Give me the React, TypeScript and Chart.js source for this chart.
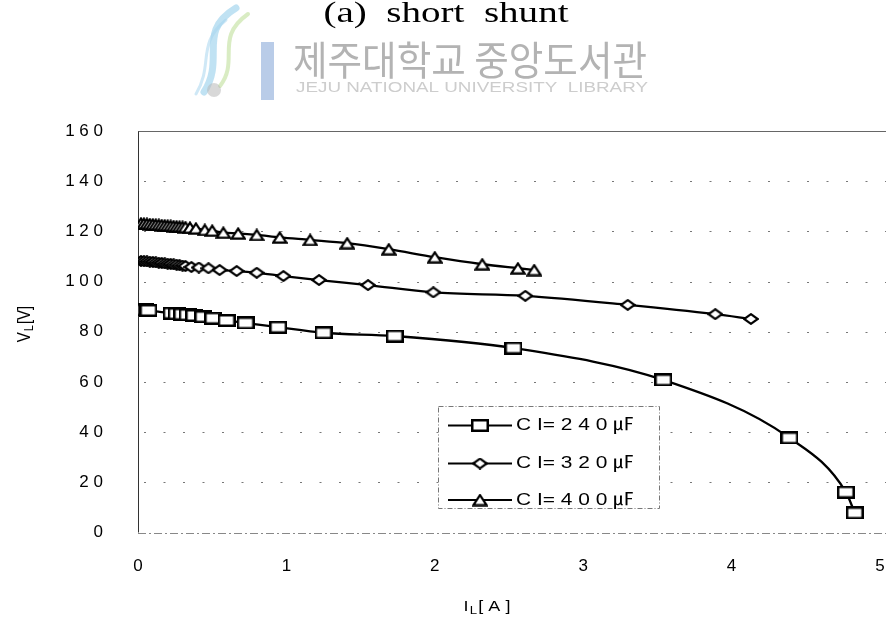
import React, { useEffect, useRef } from 'react';
import { Chart, registerables } from 'chart.js';

Chart.register(...registerables);

// ---------- texts ----------
const titleText = '(a)  short  shunt';
const watermarkKo = '제주대학교 중앙도서관';
const watermarkEn = 'JEJU NATIONAL UNIVERSITY  LIBRARY';

// ---------- ticks ----------
const xTickValues = [0, 1, 2, 3, 4, 5];
const xTickLabels = ['0', '1', '2', '3', '4', '5'];
const yTickValues = [0, 20, 40, 60, 80, 100, 120, 140, 160];
const yTickLabels = ['0', '2 0', '4 0', '6 0', '8 0', '1 0 0', '1 2 0', '1 4 0', '1 6 0'];

// ---------- series ----------
const seriesLabels = ['C I= 2 4 0 ㎌', 'C I= 3 2 0 ㎌', 'C I= 4 0 0 ㎌'];

// C = 240 uF (squares)
const c240X = [0.01, 0.03, 0.05, 0.07, 0.227, 0.26, 0.298, 0.334, 0.379, 0.44, 0.507, 0.597, 0.725, 0.945, 1.25, 1.73, 2.53, 3.54, 4.39, 4.77, 4.83];
const c240Y = [89.0, 88.9, 88.7, 88.5, 87.4, 87.2, 87.0, 86.8, 86.5, 86.0, 85.4, 84.5, 83.5, 81.8, 79.6, 78.3, 73.5, 60.8, 37.7, 16.1, 7.8];

// C = 320 uF (diamonds)
const c320X = [0.02, 0.04, 0.06, 0.08, 0.1, 0.12, 0.14, 0.16, 0.18, 0.2, 0.22, 0.24, 0.26, 0.28, 0.3, 0.32, 0.36, 0.41, 0.475, 0.55, 0.665, 0.8, 0.98, 1.22, 1.55, 1.99, 2.61, 3.3, 3.89, 4.13];
const c320Y = [108.2, 108.1, 108.0, 107.9, 107.8, 107.6, 107.5, 107.4, 107.2, 107.1, 107.0, 106.8, 106.7, 106.5, 106.4, 106.2, 105.8, 105.6, 105.3, 104.6, 104.2, 103.5, 102.2, 100.6, 98.6, 95.7, 94.3, 90.7, 87.0, 85.1];

// C = 400 uF (triangles)
const c400X = [0.02, 0.04, 0.06, 0.08, 0.1, 0.12, 0.14, 0.16, 0.18, 0.2, 0.22, 0.24, 0.26, 0.28, 0.3, 0.32, 0.35, 0.39, 0.45, 0.5, 0.575, 0.675, 0.8, 0.955, 1.16, 1.41, 1.69, 2.0, 2.32, 2.56, 2.67];
const c400Y = [123.2, 123.1, 123.0, 122.9, 122.8, 122.7, 122.6, 122.5, 122.4, 122.3, 122.2, 122.1, 122.0, 121.9, 121.8, 121.7, 121.5, 121.2, 120.6, 120.3, 119.5, 119.2, 118.6, 117.6, 116.6, 115.3, 112.9, 109.7, 106.9, 105.3, 104.6];

const SANS = '"Liberation Sans", Arial, "Noto Sans CJK KR", sans-serif';

function makeMarker(kind: string): HTMLCanvasElement {
  const c = document.createElement('canvas');
  const ctx = c.getContext('2d')!;
  if (kind === 'rect') {
    c.width = 18; c.height = 13;
    ctx.fillStyle = '#fff';
    ctx.fillRect(1.25, 1.25, 15.5, 10.5);
    ctx.strokeStyle = '#000';
    ctx.lineWidth = 2.5;
    ctx.strokeRect(1.25, 1.25, 15.5, 10.5);
  } else if (kind === 'diamond') {
    c.width = 16; c.height = 12;
    ctx.beginPath();
    ctx.moveTo(8, 1.2); ctx.lineTo(14.8, 6); ctx.lineTo(8, 10.8); ctx.lineTo(1.2, 6); ctx.closePath();
    ctx.fillStyle = '#fff'; ctx.fill();
    ctx.strokeStyle = '#000'; ctx.lineWidth = 2.2; ctx.stroke();
  } else {
    c.width = 16; c.height = 13;
    ctx.beginPath();
    ctx.moveTo(8, 1.6); ctx.lineTo(14.6, 11.6); ctx.lineTo(1.4, 11.6); ctx.closePath();
    ctx.fillStyle = '#fff'; ctx.fill();
    ctx.strokeStyle = '#000'; ctx.lineWidth = 2.2; ctx.lineJoin = 'miter'; ctx.stroke();
  }
  return c;
}

function fitText(ctx: CanvasRenderingContext2D, text: string, cx: number, y: number, width: number) {
  const w = ctx.measureText(text).width;
  ctx.save();
  ctx.translate(cx, y);
  ctx.scale(width / w, 1);
  ctx.textAlign = 'center';
  ctx.fillText(text, 0, 0);
  ctx.restore();
}

function drawSubTitle(ctx: CanvasRenderingContext2D, main: string, sub: string, rest: string, sx: number) {
  ctx.font = `15px ${SANS}`;
  const w1 = ctx.measureText(main).width;
  const w3 = ctx.measureText(rest).width;
  ctx.font = `11px ${SANS}`;
  const w2 = ctx.measureText(sub).width;
  const total = (w1 + w2 + w3 + 2) * sx;
  ctx.save();
  ctx.translate(-total / 2, 0);
  ctx.scale(sx, 1);
  ctx.textAlign = 'left';
  ctx.textBaseline = 'middle';
  ctx.font = `15px ${SANS}`;
  ctx.fillText(main, 0, 0);
  ctx.font = `11px ${SANS}`;
  ctx.fillText(sub, w1 + 1, 4);
  ctx.font = `15px ${SANS}`;
  ctx.fillText(rest, w1 + w2 + 2, 0);
  ctx.restore();
}

export default function App() {
  const ref = useRef<HTMLCanvasElement | null>(null);

  useEffect(() => {
    if (!ref.current) return;
    const markers = [makeMarker('rect'), makeMarker('diamond'), makeMarker('tri')];
    const xs = [c240X, c320X, c400X];
    const ys = [c240Y, c320Y, c400Y];

    const decor = {
      id: 'decor',
      beforeDatasetsDraw(chart: any) {
        const { ctx, chartArea: ca, scales } = chart;
        const ys_ = scales.y;
        ctx.save();
        ctx.strokeStyle = '#777';
        ctx.lineWidth = 1;
        ctx.setLineDash([2, 17.5]);
        for (const v of yTickValues) {
          if (v === 0 || v === 160) continue;
          const py = Math.round(ys_.getPixelForValue(v)) + 0.5;
          ctx.beginPath();
          ctx.moveTo(ca.left + 6, py);
          ctx.lineTo(ca.right + 6, py);
          ctx.stroke();
        }
        ctx.setLineDash([]);
        ctx.strokeStyle = '#666';
        const pt = Math.round(ys_.getPixelForValue(160)) + 0.5;
        ctx.beginPath();
        ctx.moveTo(ca.left, pt);
        ctx.lineTo(ca.right + 6, pt);
        ctx.stroke();
        ctx.strokeStyle = '#333';
        ctx.beginPath();
        ctx.moveTo(Math.round(ca.left) + 0.5, pt);
        ctx.lineTo(Math.round(ca.left) + 0.5, ca.bottom);
        ctx.stroke();
        ctx.strokeStyle = '#888';
        ctx.setLineDash([8, 3, 2, 3]);
        const pb = Math.round(ys_.getPixelForValue(0)) + 0.5;
        ctx.beginPath();
        ctx.moveTo(ca.left, pb);
        ctx.lineTo(ca.right + 6, pb);
        ctx.stroke();
        ctx.restore();
      },
      afterDatasetsDraw(chart: any) {
        const { ctx } = chart;
        ctx.save();
        ctx.fillStyle = '#fff';
        ctx.fillRect(438, 406, 222, 103);
        ctx.strokeStyle = '#777';
        ctx.lineWidth = 1;
        ctx.setLineDash([5, 2, 1, 2]);
        ctx.strokeRect(438.5, 406.5, 221, 102);
        ctx.setLineDash([]);
        const rows = [425.5, 463.5, 500];
        for (let i = 0; i < 3; i++) {
          const ry = rows[i];
          ctx.strokeStyle = '#000';
          ctx.lineWidth = 2;
          ctx.beginPath();
          ctx.moveTo(448, ry);
          ctx.lineTo(512, ry);
          ctx.stroke();
          const m = markers[i];
          ctx.drawImage(m, 480 - m.width / 2, ry - m.height / 2);
          ctx.fillStyle = '#000';
          ctx.font = `17px ${SANS}`;
          ctx.textBaseline = 'middle';
          const w = ctx.measureText(seriesLabels[i]).width;
          ctx.save();
          ctx.translate(516, ry);
          ctx.scale(118 / w, 1);
          ctx.textAlign = 'left';
          ctx.fillText(seriesLabels[i], 0, 0);
          ctx.restore();
        }
        ctx.restore();
      },
      afterDraw(chart: any) {
        const { ctx } = chart;
        ctx.save();
        ctx.fillStyle = '#000';
        ctx.font = '30px "Liberation Serif", "Times New Roman", serif';
        ctx.textBaseline = 'alphabetic';
        fitText(ctx, titleText, 446, 22, 245);

        ctx.globalAlpha = 0.55;
        ctx.lineCap = 'round';
        ctx.strokeStyle = '#8ccbe9';
        ctx.lineWidth = 7;
        ctx.beginPath();
        ctx.moveTo(236, 8);
        ctx.bezierCurveTo(196, 32, 226, 58, 204, 92);
        ctx.stroke();
        ctx.strokeStyle = '#b9dd92';
        ctx.lineWidth = 4;
        ctx.beginPath();
        ctx.moveTo(248, 14);
        ctx.bezierCurveTo(214, 38, 240, 60, 220, 86);
        ctx.stroke();
        ctx.strokeStyle = '#a7d6ee';
        ctx.lineWidth = 3;
        ctx.beginPath();
        ctx.moveTo(226, 20);
        ctx.bezierCurveTo(196, 44, 214, 64, 196, 94);
        ctx.stroke();
        ctx.fillStyle = '#b8b8b8';
        ctx.beginPath();
        ctx.arc(214, 90, 7, 0, Math.PI * 2);
        ctx.fill();
        ctx.fillStyle = '#7fa3d6';
        ctx.fillRect(261, 42, 13, 58);
        ctx.globalAlpha = 1;

        ctx.fillStyle = '#b3b3b3';
        ctx.font = '40px "Noto Sans CJK KR", sans-serif';
        ctx.textBaseline = 'middle';
        fitText(ctx, watermarkKo, 470, 60, 354);
        ctx.fillStyle = '#cdcdcd';
        ctx.font = `14px ${SANS}`;
        fitText(ctx, watermarkEn, 472, 88, 352);

        ctx.fillStyle = '#000';
        ctx.save();
        ctx.translate(487, 607);
        drawSubTitle(ctx, 'I', 'L', '[ A ]', 1.2);
        ctx.restore();
        ctx.save();
        ctx.translate(25, 324);
        ctx.rotate(-Math.PI / 2);
        ctx.scale(1, 1.2);
        drawSubTitle(ctx, 'V', 'L', '[V]', 1.0);
        ctx.restore();
        ctx.restore();
      },
    };

    const datasets = seriesLabels.map((label, i) => ({
      label,
      data: xs[i].map((x, k) => ({ x, y: ys[i][k] })),
      borderColor: '#000',
      backgroundColor: '#fff',
      borderWidth: 2.3,
      pointStyle: markers[i] as any,
      pointRadius: 6,
      pointHoverRadius: 6,
      cubicInterpolationMode: 'monotone' as const,
      showLine: true,
      fill: false,
    }));

    const chart = new Chart(ref.current, {
      type: 'line',
      data: { datasets },
      options: {
        animation: false,
        responsive: true,
        maintainAspectRatio: false,
        events: [],
        layout: { padding: { top: 131, right: 13, left: 0, bottom: 0 } },
        plugins: {
          legend: { display: false },
          tooltip: { enabled: false },
          title: { display: false },
        },
        scales: {
          x: {
            type: 'linear',
            min: 0,
            max: 5,
            afterFit: (s: any) => { s.height = 87.5; },
            afterBuildTicks: (s: any) => { s.ticks = xTickValues.map((v) => ({ value: v })); },
            grid: {
              display: true,
              drawOnChartArea: false,
              drawTicks: true,
              tickLength: 24,
              color: 'rgba(0,0,0,0)',
              tickColor: 'rgba(0,0,0,0)',
            },
            border: { display: false },
            ticks: {
              padding: 0,
              color: '#000',
              font: { family: SANS, size: 17 },
              callback: (v: any) => xTickLabels[xTickValues.indexOf(Number(v))] ?? '',
            },
          },
          y: {
            type: 'linear',
            min: 0,
            max: 160,
            afterFit: (s: any) => { s.width = 138; },
            afterBuildTicks: (s: any) => { s.ticks = yTickValues.map((v) => ({ value: v })); },
            grid: { display: false, drawTicks: false },
            border: { display: false },
            ticks: {
              padding: 35,
              color: '#000',
              font: { family: SANS, size: 17 },
              callback: (v: any) => yTickLabels[yTickValues.indexOf(Number(v))] ?? '',
            },
          },
        },
      },
      plugins: [decor],
    });
    return () => chart.destroy();
  }, []);

  return (
    <div style={{ position: 'absolute', left: 0, top: 0, width: 893, height: 620, background: '#fff' }}>
      <canvas ref={ref} />
    </div>
  );
}
